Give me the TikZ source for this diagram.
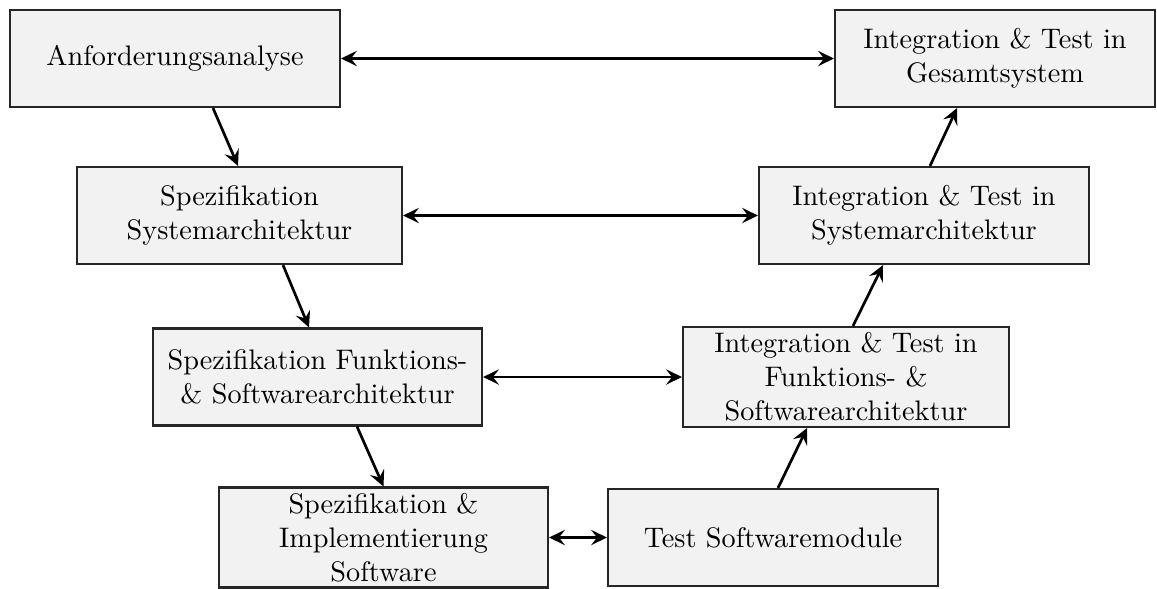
\documentclass[tikz,border=0pt]{standalone}
\usetikzlibrary{arrows.meta,calc}
\newcommand\pxs{0.354}
\begin{document}
\begin{tikzpicture}[x=\pxs pt,y=-\pxs pt,
  phase/.style={draw=black!85, line width=0.75pt, fill=gray!10, align=center,
    minimum height=97*\pxs pt, inner sep=2pt, font=\normalsize},
  tip/.style={Stealth[length=5.6pt,width=5.4pt,inset=2.1pt]},
  flow/.style={line width=0.95pt, -{Stealth[length=5.6pt,width=5.4pt,inset=2.1pt]}},
  link/.style={line width=0.95pt, {Stealth[length=5.6pt,width=5.4pt,inset=2.1pt]}-{Stealth[length=5.6pt,width=5.4pt,inset=2.1pt]}}]
\useasboundingbox (0,0) rectangle (1157,588);

% left branch: specification
\node[phase, minimum width=330*\pxs pt] (req) at (175,58.5) {Anforderungsanalyse};
\node[phase, minimum width=325*\pxs pt] (sysarch) at (239.5,215.5) {Spezifikation\\Systemarchitektur};
\node[phase, minimum width=329*\pxs pt] (swarch) at (317.5,377) {Spezifikation Funktions-\\\& Softwarearchitektur};
\node[phase, minimum width=329*\pxs pt] (impl) at (383.5,537.5) {Spezifikation \&\\Implementierung\\Software};

% right branch: integration and test
\node[phase, minimum width=320*\pxs pt] (total) at (995,58.5) {Integration \& Test in\\Gesamtsystem};
\node[phase, minimum width=330*\pxs pt] (systest) at (924,215.5) {Integration \& Test in\\Systemarchitektur};
\node[phase, minimum width=326*\pxs pt] (swtest) at (846,377) {Integration \& Test in\\Funktions- \&\\Softwarearchitektur};
\node[phase, minimum width=330*\pxs pt] (modtest) at (773,537.5) {Test Softwaremodule};

% descending arrows
\draw[flow] ($(req.south)+(38,0)$) -- ($(sysarch.north)+(-1.5,0)$);
\draw[flow] ($(sysarch.south)+(43.5,0)$) -- ($(swarch.north)+(-8.5,0)$);
\draw[flow] ($(swarch.south)+(39.5,0)$) -- (impl.north);

% ascending arrows
\draw[flow] ($(modtest.north)+(5,0)$) -- ($(swtest.south)+(-39,0)$);
\draw[flow] ($(swtest.north)+(7,0)$) -- ($(systest.south)+(-41,0)$);
\draw[flow] ($(systest.north)+(6,0)$) -- ($(total.south)+(-38,0)$);

% verification links
\draw[link] (req.east) -- (total.west);
\draw[link] (sysarch.east) -- (systest.west);
\draw[link] (swarch.east) -- (swtest.west);
\draw[link] (impl.east) -- (modtest.west);
\end{tikzpicture}
\end{document}
